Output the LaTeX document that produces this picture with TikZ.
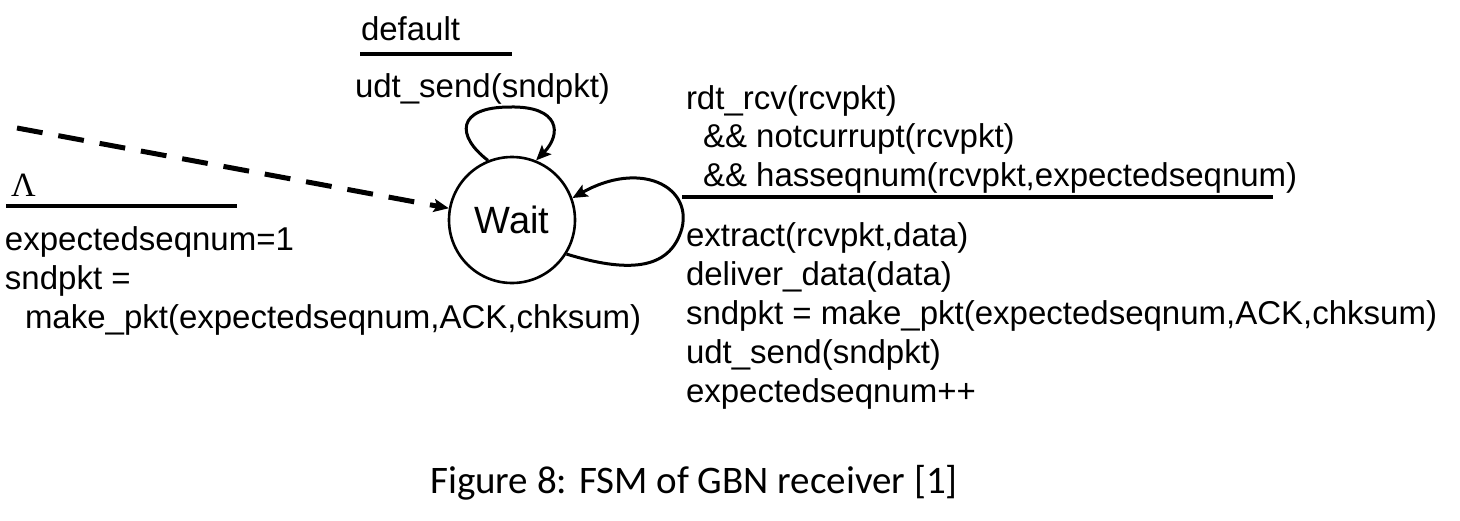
\documentclass[tikz,border=0pt]{standalone}
\usepackage{fontspec}
\setmainfont{Liberation Sans}
\newfontfamily\capfont{Carlito}
\newfontfamily\lamfont{Liberation Serif}
\usetikzlibrary{arrows.meta}
\begin{document}
\begin{tikzpicture}[x=1pt,y=-1pt,
  lbl/.style={anchor=base west,inner sep=0pt,outer sep=0pt,font=\fontsize{33}{39}\selectfont},
  state/.style={draw,circle,line width=2.6pt,minimum size=126pt,inner sep=0pt,font=\fontsize{38}{44}\selectfont},
  arr/.style={line width=3pt,-{Stealth[length=15pt,width=13pt,inset=3pt]}},
  dasharr/.style={arr,line width=5pt,dash pattern=on 26pt off 16pt},
  bar/.style={line width=4.5pt}]
\useasboundingbox[fill=white] (0,0) rectangle (1460,520);
% state
\node[state] (wait) at (512,220) {Wait};
% initial transition
\coordinate (init) at (17,128);
\draw[dasharr] (init) -- (wait);
\node[lbl,font=\lamfont\fontsize{34}{40}\selectfont] (lam) at (11,196) {Λ};
\draw[bar] (6,206) -- (237,206);
\node[lbl] (l1) at (5,250) {expectedseqnum=1};
\node[lbl] (l2) at (5,289) {sndpkt =};
\node[lbl] (l3) at (25,328) {make\_pkt(expectedseqnum,ACK,chksum)};
% top self loop
\coordinate (ltop) at (510,107);
\draw[arr] (wait.112) .. controls (456,136) and (456,107) .. (ltop)
  .. controls (560,106) and (562,134) .. (wait.68);
\node[lbl] (d1) at (361,40) {default};
\draw[bar] (360,54) -- (512,54);
\node[lbl] (d2) at (355,97) {udt\_send(sndpkt)};
% right self loop
\draw[arr] (wait.-32) .. controls (625,272) and (670,272) .. (682,228)
  .. controls (692,186) and (640,160) .. (wait.20);
\node[lbl] (r1) at (686,109) {rdt\_rcv(rcvpkt)};
\node[lbl] (r2) at (703,147) {\&\& notcurrupt(rcvpkt)};
\node[lbl] (r3) at (703,186) {\&\& hasseqnum(rcvpkt,expectedseqnum)};
\draw[line width=3.5pt] (682,197) -- (1273,197);
\node[lbl] (a1) at (686,246) {extract(rcvpkt,data)};
\node[lbl] (a2) at (686,285) {deliver\_data(data)};
\node[lbl] (a3) at (686,324) {sndpkt = make\_pkt(expectedseqnum,ACK,chksum)};
\node[lbl] (a4) at (686,363) {udt\_send(sndpkt)};
\node[lbl] (a5) at (686,402) {expectedseqnum++};
% caption
\node[anchor=base,inner sep=0pt,font=\capfont\fontsize{39}{46}\selectfont] (cap) at (694,493) {Figure 8: FSM of GBN receiver [1]};
\end{tikzpicture}
\end{document}
